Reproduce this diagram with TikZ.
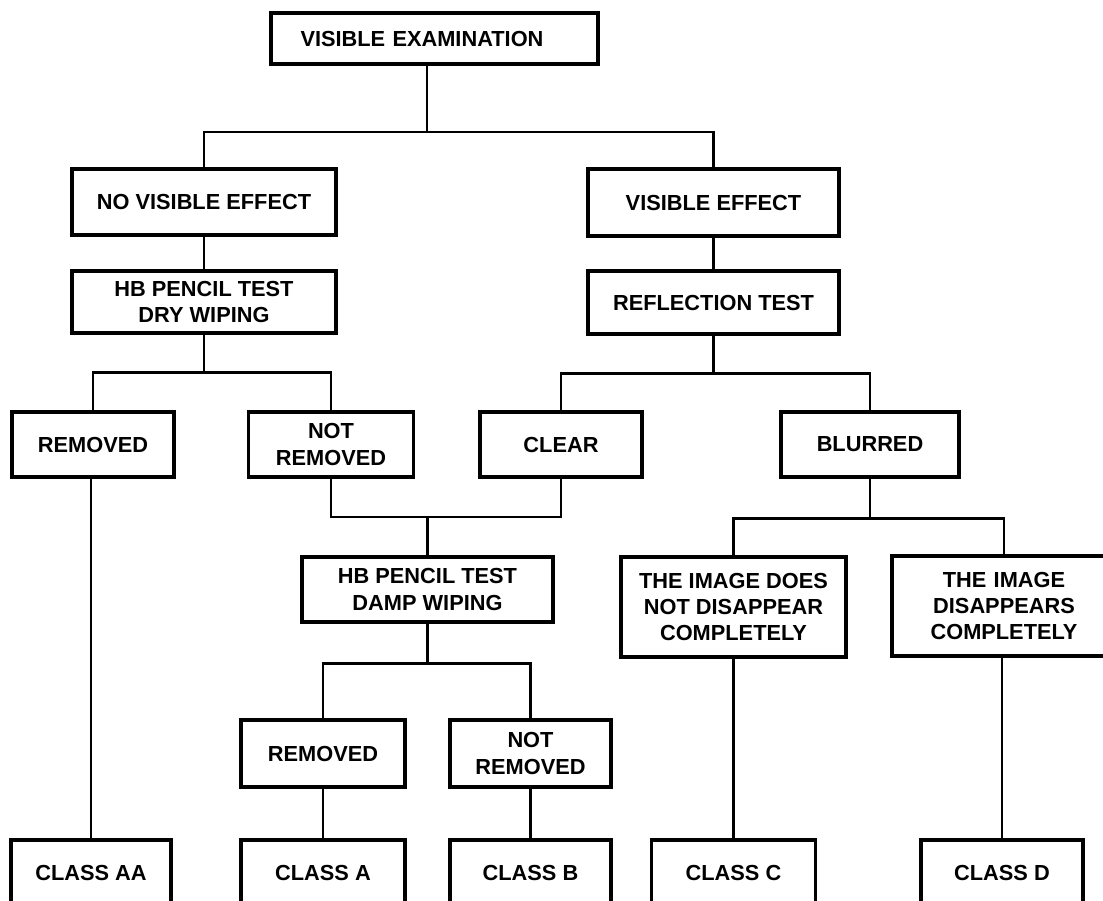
\documentclass[tikz,border=0pt]{standalone}
\usepackage{fontspec}
\setmainfont{Liberation Sans}
\usepackage{tikz}
\usetikzlibrary{positioning}
\tikzstyle{caja} = [draw=black, line width=1.9pt, rectangle, inner sep=2pt, align=center, font=\fontsize{12.4}{15}\selectfont\bfseries]
\tikzstyle{linea} = [draw=black, line width=1.5pt]

\begin{document}
\begin{tikzpicture}[x=0.02cm, y=-0.02cm]
	\useasboundingbox (0,0) rectangle (1103,900);
	\clip (0,0) rectangle (1103,900);
	\node [caja, minimum width=6.54cm, minimum height=1.02cm, text width=6.2cm, align=left] (exam) at (434.5,38.5) {\hspace{0.42cm}VISIBLE EXAMINATION};
	\node [caja, minimum width=5.28cm, minimum height=1.32cm] (novis) at (204,202) {NO VISIBLE EFFECT};
	\node [caja, minimum width=5.02cm, minimum height=1.34cm] (vis) at (713.5,202.5) {VISIBLE EFFECT};
	\node [caja, minimum width=5.28cm, minimum height=1.24cm] (seco) at (204,302) {HB PENCIL TEST\\DRY WIPING};
	\node [caja, minimum width=5.02cm, minimum height=1.26cm] (refl) at (713.5,302.5) {REFLECTION TEST};
	\node [caja, minimum width=3.24cm, minimum height=1.3cm] (quita) at (93,444.5) {REMOVED};
	\node [caja, minimum width=3.3cm, minimum height=1.3cm] (noquita) at (331,444.5) {NOT\\REMOVED};
	\node [caja, minimum width=3.24cm, minimum height=1.3cm] (claro) at (561,444.5) {CLEAR};
	\node [caja, minimum width=3.56cm, minimum height=1.3cm] (borroso) at (870,444.5) {BLURRED};
	\node [caja, minimum width=5.02cm, minimum height=1.3cm] (humedo) at (427.5,589.5) {HB PENCIL TEST\\DAMP WIPING};
	\node [caja, minimum width=4.5cm, minimum height=2.0cm] (nodesap) at (733.5,607) {THE IMAGE DOES\\NOT DISAPPEAR\\COMPLETELY};
	\node [caja, minimum width=4.48cm, minimum height=2.0cm, text width=4.0cm] (desap) at (1004,606) {THE IMAGE\\DISAPPEARS\\COMPLETELY};
	\node [caja, minimum width=3.28cm, minimum height=1.34cm] (quitab) at (323,753.5) {REMOVED};
	\node [caja, minimum width=3.22cm, minimum height=1.34cm] (noquitab) at (530.5,753.5) {NOT\\REMOVED};
	\node [caja, minimum width=3.2cm, minimum height=1.3cm] (clAA) at (91,872.5) {CLASS AA};
	\node [caja, minimum width=3.28cm, minimum height=1.3cm] (clA) at (323,872.5) {CLASS A};
	\node [caja, minimum width=3.22cm, minimum height=1.3cm] (clB) at (530.5,872.5) {CLASS B};
	\node [caja, minimum width=3.28cm, minimum height=1.3cm] (clC) at (733.5,872.5) {CLASS C};
	\node [caja, minimum width=3.24cm, minimum height=1.3cm] (clD) at (1002,872.5) {CLASS D};
	\coordinate (j1) at (427,132);
	\coordinate (j4) at (427.5,517);
	\draw [linea] (exam.south -| j1) -- (j1);
	\draw [linea] (novis.north) |- (j1) -| (vis.north);
	\draw [linea] (novis.south) -- (seco.north);
	\draw [linea] (vis.south) -- (refl.north);
	\draw [linea] (seco.south) -- ++(0,38) coordinate (j2);
	\draw [linea] (quita.north) |- (j2) -| (noquita.north);
	\draw [linea] (refl.south) -- ++(0,38) coordinate (j3);
	\draw [linea] (claro.north) |- (j3) -| (borroso.north);
	\draw [linea] (noquita.south) |- (j4) -| (claro.south);
	\draw [linea] (j4) -- (humedo.north);
	\draw [linea] (borroso.south) -- ++(0,40) coordinate (j5);
	\draw [linea] (nodesap.north) |- (j5) -| (desap.north);
	\draw [linea] (humedo.south) -- ++(0,40) coordinate (j6);
	\draw [linea] (quitab.north) |- (j6) -| (noquitab.north);
	\draw [linea] (quitab.south) -- (clA.north);
	\draw [linea] (noquitab.south) -- (clB.north);
	\draw [linea] (nodesap.south) -- (clC.north);
	\draw [linea] (desap.south -| clD.north) -- (clD.north);
	\draw [linea] (clAA.north) -- (clAA.north |- quita.south);
\end{tikzpicture}
\end{document}
